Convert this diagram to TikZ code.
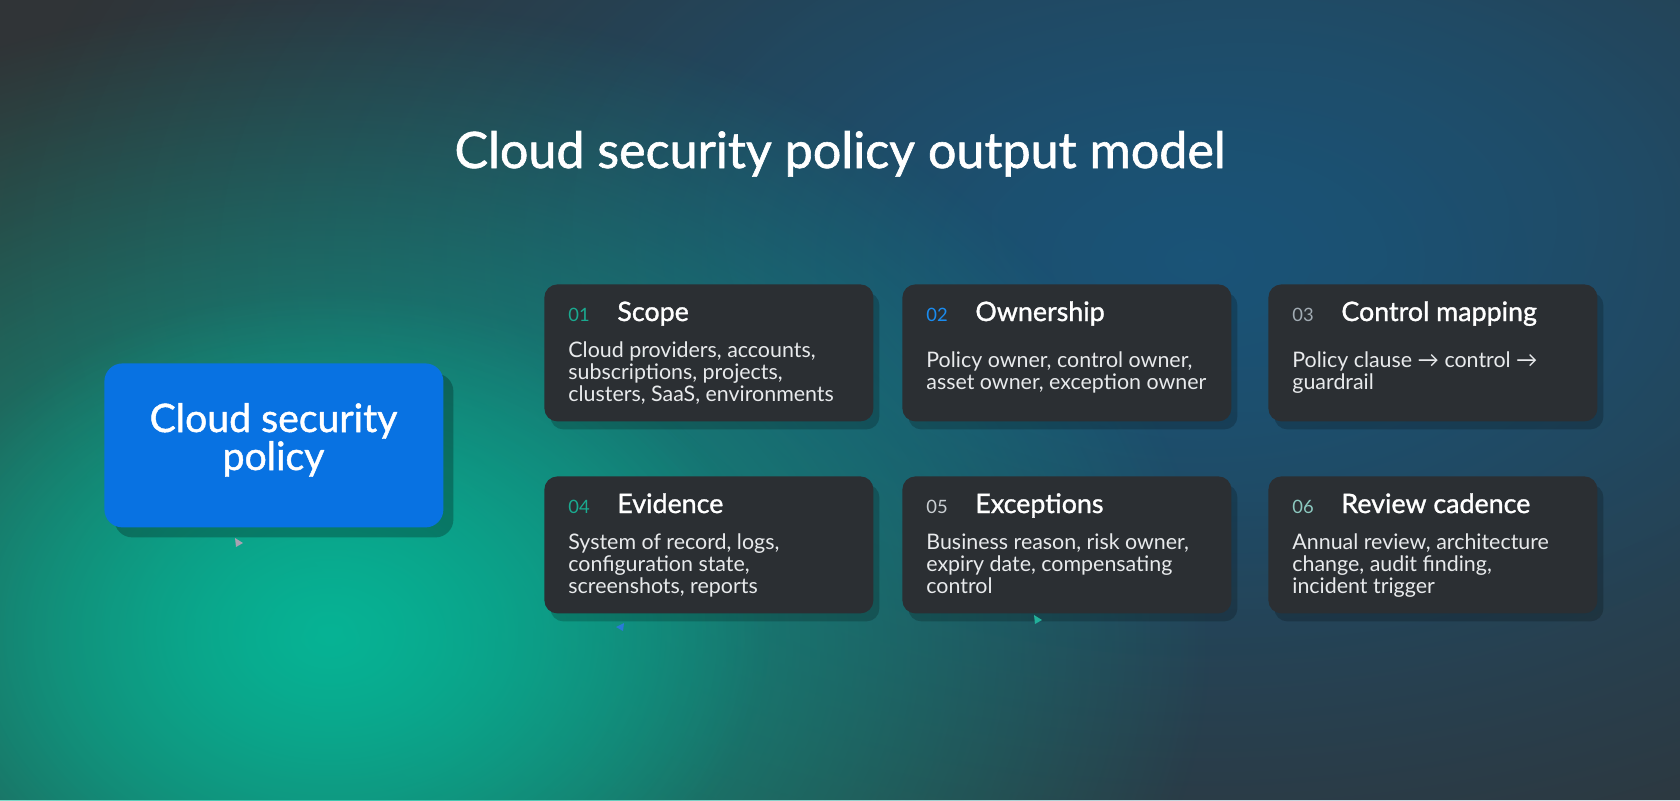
\documentclass[tikz,border=0pt]{standalone}
\usepackage{fontspec}
\setmainfont{Lato}
\newfontfamily\medfont[FakeBold=1.2]{Lato}
\usetikzlibrary{calc,fadings,shadows}

\definecolor{bgbase}{HTML}{303437}
\definecolor{bgblue}{HTML}{1A5478}
\definecolor{bgteal}{HTML}{05B898}
\definecolor{cardfill}{HTML}{2B2F33}
\definecolor{mainblue}{HTML}{0872E2}
\definecolor{numteal}{HTML}{1AAA90}
\definecolor{numblue}{HTML}{1A8CF0}
\definecolor{numgrey}{HTML}{A2ACB4}
\definecolor{numlight}{HTML}{C9CED2}
\definecolor{numsea}{HTML}{8CC8BF}
\definecolor{bodytext}{HTML}{E8EAEC}
\definecolor{tipgrey}{HTML}{A8A2B2}
\definecolor{tipblue}{HTML}{2A7AD8}
\definecolor{tipteal}{HTML}{22B09A}

\tikzfading[name=glowfade, inner color=transparent!0, outer color=transparent!100]

\tikzset{
  cardbox/.style={fill=cardfill, rounded corners=6.5pt, minimum width=164.5pt,
    minimum height=68.5pt, inner sep=0pt, anchor=north west,
    drop shadow={shadow xshift=3pt, shadow yshift=-4pt, opacity=0.2, fill=black}},
  mainbox/.style={fill=mainblue, rounded corners=9pt, minimum width=169.5pt,
    minimum height=82pt, inner sep=0pt, anchor=north west,
    drop shadow={shadow xshift=5pt, shadow yshift=-5pt, opacity=0.25, fill=black}},
  numtxt/.style={inner sep=0pt, anchor=base west, font=\fontsize{9.2pt}{11pt}\selectfont},
  headtxt/.style={inner sep=0pt, anchor=base west, text=white, font=\medfont\fontsize{13.4pt}{15pt}\selectfont},
  bodytxt/.style={inner sep=0pt, anchor=base west, text=bodytext, font=\fontsize{10.7pt}{11pt}\selectfont},
  maintxt/.style={inner sep=0pt, anchor=base, text=white, font=\medfont\fontsize{19.6pt}{22pt}\selectfont},
  titletxt/.style={inner sep=0pt, anchor=base, text=white, font=\medfont\fontsize{25.1pt}{29pt}\selectfont}
}

\newcommand\cardtext[6]{%
  \node[numtxt, text=#2] (#1n) at ($(#1.north west)+(24,37)$) {#3};
  \node[headtxt] (#1t) at ($(#1.north west)+(73,37)$) {#4};
  \node[bodytxt] (#1b) at ($(#1.north west)+(24,#6)$) {\vtop{\baselineskip=11pt #5}};
}

\begin{document}
\begin{tikzpicture}[x=0.5pt,y=-0.5pt]
\useasboundingbox (0,0) rectangle (1680,800);
\begin{scope}
  \clip (0,0) rectangle (1680,800);
  \fill[bgbase] (0,0) rectangle (1680,800);
  \fill[bgblue, path fading=glowfade] (1200,260) ellipse [x radius=600pt, y radius=360pt];
  \fill[bgblue, path fading=glowfade, fill opacity=0.5] (1250,220) ellipse [x radius=380pt, y radius=220pt];
  \fill[bgteal, path fading=glowfade, fill opacity=0.85] (330,640) ellipse [x radius=440pt, y radius=320pt];
  \fill[bgteal, path fading=glowfade, fill opacity=0.75] (330,630) ellipse [x radius=220pt, y radius=170pt];
\end{scope}

\node[titletxt] (title) at (840,168) {Cloud security policy output model};

\node[mainbox] (policy) at (104,363) {};
\node[maintxt] (pt1) at ($(policy.north west)+(169.5,69)$) {Cloud security};
\node[maintxt] (pt2) at ($(policy.north west)+(169.5,107)$) {policy};

\node[cardbox] (c1) at (544,284) {};
\node[cardbox] (c2) at (902,284) {};
\node[cardbox] (c3) at (1268,284) {};
\node[cardbox] (c4) at (544,476) {};
\node[cardbox] (c5) at (902,476) {};
\node[cardbox] (c6) at (1268,476) {};

\cardtext{c1}{numteal}{01}{Scope}{\hbox{Cloud providers, accounts,}\hbox{subscriptions, projects,}\hbox{clusters, SaaS, environments}}{73}
\cardtext{c2}{numblue}{02}{Ownership}{\hbox{Policy owner, control owner,}\hbox{asset owner, exception owner}}{83}
\cardtext{c3}{numgrey}{03}{Control mapping}{\hbox{Policy clause \textrightarrow{} control \textrightarrow}\hbox{guardrail}}{83}
\cardtext{c4}{numteal}{04}{Evidence}{\hbox{System of record, logs,}\hbox{configuration state,}\hbox{screenshots, reports}}{73}
\cardtext{c5}{numlight}{05}{Exceptions}{\hbox{Business reason, risk owner,}\hbox{expiry date, compensating}\hbox{control}}{73}
\cardtext{c6}{numsea}{06}{Review cadence}{\hbox{Annual review, architecture}\hbox{change, audit finding,}\hbox{incident trigger}}{73}

\fill[tipgrey] (235,538) -- (243,543) -- (236,547) -- cycle;
\fill[tipblue] (624,623) -- (616,627) -- (623,631) -- cycle;
\fill[tipteal] (1034,615) -- (1042,620) -- (1035,624) -- cycle;
\end{tikzpicture}
\end{document}
